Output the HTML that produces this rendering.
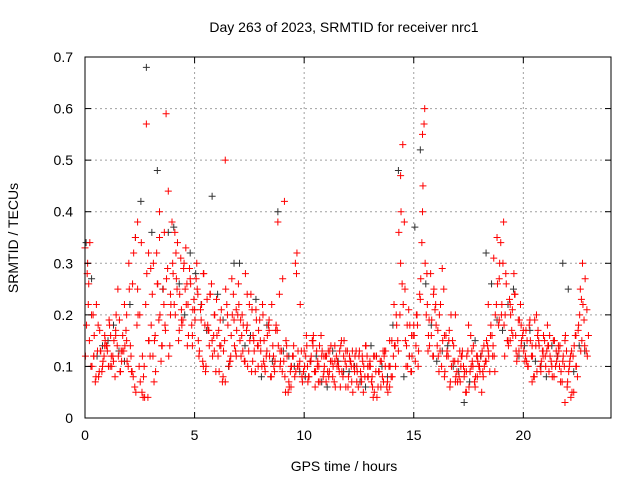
<!DOCTYPE html>
<html><head><meta charset="utf-8"><style>
html,body{margin:0;padding:0;background:#fff;}
svg{display:block;font-family:"Liberation Sans",sans-serif;}
</style></head><body>
<svg id="c" width="640" height="480"></svg>
<script>
const xTicks=[0,5,10,15,20];
const yTicks=[0,0.1,0.2,0.3,0.4,0.5,0.6,0.7];
const yTickLabels=["0","0.1","0.2","0.3","0.4","0.5","0.6","0.7"];
const red1Start=0, red1Step=0.2;
const red1=[0.33,0.15,0.12,0.18,0.10,0.14,0.12,0.17,0.09,0.22,0.30,0.08,0.38,0.05,0.57,0.29,0.16,0.35,0.22,0.44,0.30,0.25,0.19,0.33,0.27,0.21,0.12,0.28,0.18,0.15,0.23,0.14,0.50,0.11,0.19,0.26,0.13,0.18,0.09,0.21,0.15,0.10,0.19,0.12,0.38,0.09,0.14,0.06,0.30,0.11,0.13,0.08,0.15,0.10,0.12,0.07,0.11,0.14,0.09,0.12,0.06,0.13,0.10,0.08,0.14,0.11,0.05,0.09,0.13,0.07,0.15,0.20,0.47,0.25,0.12,0.18,0.10,0.55,0.28,0.16,0.22,0.13,0.08,0.15,0.11,0.07,0.12,0.09,0.16,0.06,0.10,0.14,0.22,0.12,0.35,0.20,0.28,0.15,0.24,0.13,0.17,0.10,0.14,0.20,0.09,0.12,0.16,0.08,0.14,0.11,0.06,0.13,0.10,0.25,0.14];
const red2Start=0.1, red2Step=0.2;
const red2=[0.28,0.20,0.08,0.13,0.16,0.19,0.11,0.25,0.13,0.15,0.12,0.35,0.20,0.10,0.32,0.12,0.26,0.14,0.59,0.20,0.36,0.17,0.29,0.22,0.14,0.30,0.19,0.09,0.24,0.13,0.17,0.08,0.20,0.27,0.12,0.19,0.11,0.22,0.15,0.10,0.22,0.13,0.08,0.17,0.10,0.42,0.07,0.12,0.10,0.08,0.16,0.11,0.06,0.14,0.09,0.13,0.08,0.10,0.15,0.06,0.11,0.09,0.12,0.05,0.10,0.08,0.12,0.06,0.10,0.15,0.22,0.13,0.53,0.18,0.09,0.14,0.23,0.60,0.19,0.12,0.17,0.29,0.12,0.20,0.07,0.13,0.08,0.18,0.10,0.12,0.05,0.11,0.16,0.09,0.27,0.38,0.15,0.21,0.11,0.18,0.12,0.19,0.08,0.15,0.13,0.18,0.10,0.13,0.07,0.15,0.10,0.05,0.17,0.30,0.21];
const red3Start=0.15, red3Step=0.25;
const red3=[0.22,0.12,0.09,0.14,0.10,0.16,0.13,0.20,0.09,0.25,0.04,0.15,0.07,0.40,0.18,0.24,0.32,0.21,0.26,0.16,0.24,0.10,0.17,0.20,0.14,0.07,0.12,0.21,0.16,0.24,0.11,0.14,0.11,0.17,0.09,0.13,0.05,0.10,0.28,0.08,0.10,0.14,0.07,0.12,0.09,0.11,0.06,0.13,0.10,0.07,0.12,0.08,0.04,0.09,0.12,0.06,0.14,0.30,0.10,0.16,0.20,0.40,0.13,0.24,0.09,0.16,0.06,0.20,0.10,0.05,0.13,0.08,0.09,0.13,0.31,0.19,0.12,0.22,0.16,0.14,0.11,0.07,0.16,0.12,0.14,0.08,0.10,0.03,0.12,0.16,0.23];
const red4Start=0.02, red4Step=0.1;
const red4=[.12,.30,.34,.10,.16,.22,.08,.13,.11,.15,
.13,.18,.10,.15,.20,.12,.09,.16,.14,.11,
.25,.09,.32,.05,.20,.07,.12,.04,.28,.15,
.18,.30,.09,.26,.20,.14,.36,.27,.12,.22,
.28,.20,.34,.24,.18,.30,.22,.16,.26,.21,
.19,.25,.13,.22,.28,.10,.17,.24,.12,.20,
.16,.09,.21,.13,.25,.18,.11,.20,.14,.17,
.22,.12,.18,.28,.10,.15,.21,.13,.19,.17,
.13,.20,.09,.16,.12,.22,.10,.18,.14,.11,
.27,.08,.12,.06,.10,.14,.09,.13,.22,.07,
.10,.14,.08,.12,.16,.09,.11,.07,.13,.10,
.12,.08,.14,.10,.06,.11,.13,.09,.15,.10,
.08,.11,.05,.12,.09,.13,.07,.10,.14,.08,
.10,.06,.12,.04,.09,.11,.07,.13,.05,.10,
.08,.14,.18,.36,.40,.22,.15,.10,.18,.12,
.16,.20,.13,.27,.45,.30,.22,.14,.19,.25,
.18,.12,.22,.15,.09,.13,.17,.10,.14,.08,
.11,.07,.13,.09,.12,.06,.10,.14,.08,.11,
.09,.13,.10,.15,.12,.18,.14,.20,.26,.30,
.22,.18,.26,.14,.20,.16,.24,.12,.19,.15,
.13,.17,.10,.15,.12,.19,.09,.14,.11,.16,
.10,.14,.12,.08,.15,.11,.13,.09,.12,.16,
.07,.11,.05,.14,.10,.18,.13,.22,.27,.12];
const red5Start=0.07, red5Step=0.1;
const red5=[.18,.26,.10,.20,.07,.13,.17,.09,.12,.14,
.10,.16,.12,.08,.14,.19,.11,.13,.17,.10,
.14,.26,.06,.18,.10,.34,.08,.22,.04,.12,
.24,.15,.32,.19,.11,.25,.17,.29,.14,.38,
.22,.27,.15,.31,.19,.25,.14,.29,.18,.23,
.27,.15,.21,.11,.18,.23,.14,.26,.16,.09,
.12,.19,.07,.15,.22,.10,.16,.24,.13,.20,
.15,.20,.11,.17,.13,.24,.16,.09,.14,.19,
.10,.15,.12,.18,.08,.14,.11,.17,.24,.13,
.11,.15,.05,.09,.12,.08,.32,.10,.13,.09,
.12,.07,.11,.15,.09,.13,.10,.16,.08,.12,
.09,.13,.11,.07,.12,.10,.14,.08,.11,.13,
.12,.07,.10,.13,.06,.09,.11,.08,.12,.10,
.07,.12,.09,.06,.11,.08,.13,.06,.10,.08,
.12,.10,.15,.20,.26,.38,.14,.21,.09,.16,
.11,.18,.24,.34,.57,.20,.16,.28,.12,.21,
.14,.20,.10,.25,.16,.12,.07,.15,.11,.09,
.08,.12,.10,.05,.13,.09,.11,.07,.12,.10,
.12,.08,.11,.14,.09,.16,.12,.22,.18,.34,
.30,.20,.15,.23,.17,.28,.13,.19,.22,.16,
.11,.15,.18,.12,.08,.14,.17,.10,.13,.15,
.13,.09,.11,.15,.10,.12,.14,.07,.10,.13,
.09,.04,.12,.16,.08,.20,.15,.19,.13,.16];
const blackStart=0.3, blackStep=0.5;
const black=[0.27,0.14,0.18,0.11,0.35,0.68,0.48,0.36,0.26,0.32,0.22,0.43,0.19,0.30,0.14,0.23,0.18,0.40,0.12,0.09,0.11,0.07,0.13,0.09,0.10,0.06,0.12,0.08,0.48,0.12,0.52,0.18,0.13,0.10,0.03,0.15,0.32,0.19,0.22,0.12,0.17,0.10,0.14,0.30,0.09,0.13];
const black2Start=0.05, black2Step=0.5;
const black2=[0.34,0.12,0.15,0.13,0.22,0.42,0.36,0.25,0.37,0.20,0.28,0.17,0.24,0.10,0.30,0.16,0.08,0.11,0.13,0.10,0.08,0.12,0.06,0.11,0.09,0.07,0.14,0.10,0.18,0.08,0.37,0.26,0.11,0.14,0.09,0.07,0.12,0.26,0.17,0.25,0.14,0.11,0.08,0.12,0.25,0.14];

const L=85,R=611,T=57,B=418;
const X=v=>L+(v/24)*(R-L);
const Y=v=>B-(v/0.7)*(B-T);
const svg=document.getElementById('c');
const NS='http://www.w3.org/2000/svg';
function mk(tag,at,parent){const e=document.createElementNS(NS,tag);for(const k in at)e.setAttribute(k,at[k]);(parent||svg).appendChild(e);return e;}

const grid=mk('g',{stroke:'#a0a0a0','stroke-dasharray':'2,3','stroke-width':1});


xTicks.forEach(v=>{if(v>0)mk('line',{x1:X(v),x2:X(v),y1:T,y2:B},grid);});
yTicks.forEach(v=>{if(v>0&&v<0.7)mk('line',{x1:L,x2:R,y1:Y(v),y2:Y(v)},grid);});

function series(vals,start,step,color,name){
  const g=mk('g',{stroke:color,'stroke-width':1});
  
  
  vals.forEach((v,i)=>{const x=X(start+i*step),y=Y(v);
    mk('path',{d:`M${x-3.5},${y}h7M${x},${y-3.5}v7`},g);});
}
series(black,blackStart,blackStep,'#333','series-black');
series(black2,black2Start,black2Step,'#333','series-black-2');
series(red5,red5Start,red5Step,'#ff0000','series-red-5');
series(red4,red4Start,red4Step,'#ff0000','series-red-4');
series(red3,red3Start,red3Step,'#ff0000','series-red-3');
series(red2,red2Start,red2Step,'#ff0000','series-red-2');
series(red1,red1Start,red1Step,'#ff0000','series-red-1');

const frame=mk('rect',{x:L,y:T,width:R-L,height:B-T,fill:'none',stroke:'#000','stroke-width':1});


const ax=mk('g',{stroke:'#000'});
xTicks.forEach(v=>{mk('line',{x1:X(v),x2:X(v),y1:B,y2:B-6},ax);mk('line',{x1:X(v),x2:X(v),y1:T,y2:T+6},ax);
  const t=mk('text',{x:X(v),y:B+22,'text-anchor':'middle','font-size':14,fill:'#000',stroke:'none'});t.textContent=v;
  
  });
yTicks.forEach((v,i)=>{mk('line',{x1:L,x2:L+6,y1:Y(v),y2:Y(v)},ax);mk('line',{x1:R,x2:R-6,y1:Y(v),y2:Y(v)},ax);
  const t=mk('text',{x:L-12,y:Y(v)+5,'text-anchor':'end','font-size':14,fill:'#000',stroke:'none'});t.textContent=yTickLabels[i];
  
  });
</script>
<svg style="position:absolute;left:0;top:0" width="640" height="480">
<text x="344" y="32" text-anchor="middle" font-size="14" font-family="Liberation Sans">Day 263 of 2023, SRMTID for receiver nrc1</text>
<text x="344" y="471" text-anchor="middle" font-size="14" font-family="Liberation Sans">GPS time / hours</text>
<text x="18" y="238" text-anchor="middle" font-size="14" font-family="Liberation Sans" transform="rotate(-90 18 238)">SRMTID / TECUs</text>
</svg>
</body></html>
